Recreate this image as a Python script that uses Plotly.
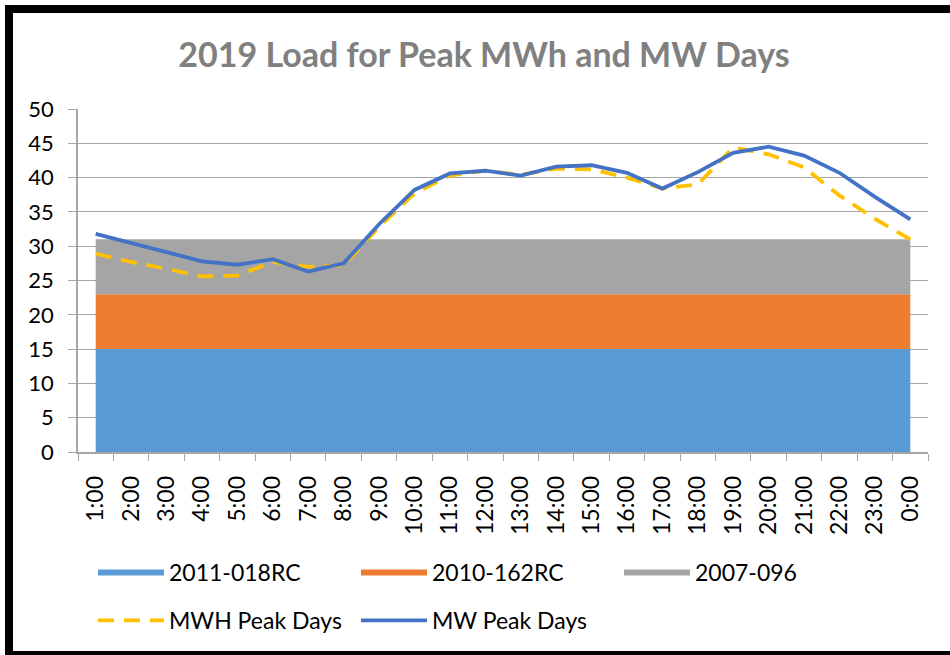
import plotly.graph_objects as go

hours = ["1:00", "2:00", "3:00", "4:00", "5:00", "6:00", "7:00", "8:00", "9:00", "10:00",
         "11:00", "12:00", "13:00", "14:00", "15:00", "16:00", "17:00", "18:00", "19:00",
         "20:00", "21:00", "22:00", "23:00", "0:00"]

res_2011_018RC = [15] * 24
res_2010_162RC = [8] * 24
res_2007_096 = [8] * 24

mwh_peak_days = [28.9, 27.7, 26.7, 25.6, 25.7, 27.7, 27.0, 27.2, 32.8, 37.7, 40.3, 41.0,
                 40.4, 41.3, 41.2, 40.0, 38.4, 39.0, 44.4, 43.4, 41.5, 37.4, 34.0, 31.0]
mw_peak_days = [31.8, 30.5, 29.1, 27.8, 27.3, 28.1, 26.3, 27.5, 33.2, 38.2, 40.6, 41.0,
                40.3, 41.6, 41.8, 40.7, 38.4, 40.8, 43.6, 44.5, 43.2, 40.7, 37.2, 33.9]

FONT = "Lato"
W, H = 950, 655
L, R, T, B = 78, 22, 109, 203
PW, PH = W - L - R, H - T - B


def px_x(x):
    return (x - L) / PW


def px_y(y):
    return (H - B - y) / PH


fig = go.Figure()

area_series = [("2011-018RC", res_2011_018RC, "#5B9BD5"),
               ("2010-162RC", res_2010_162RC, "#ED7D31"),
               ("2007-096", res_2007_096, "#A5A5A5")]
for name, vals, col in area_series:
    fig.add_trace(go.Scatter(x=hours, y=vals, name=name, stackgroup="one", mode="none",
                             fillcolor=col, legend="legend"))

fig.add_trace(go.Scatter(x=hours, y=mwh_peak_days, name="MWH Peak Days", mode="lines",
                         line=dict(color="#FFC000", width=3.8, dash="16px,10px"),
                         legend="legend2"))
fig.add_trace(go.Scatter(x=hours, y=mw_peak_days, name="MW Peak Days", mode="lines",
                         line=dict(color="#4472C4", width=3.8),
                         legend="legend2"))

legend_common = dict(orientation="h", xanchor="left", yanchor="top", traceorder="normal",
                     font=dict(family=FONT, size=23, color="#000000"),
                     entrywidth=182, entrywidthmode="pixels", itemwidth=66,
                     bgcolor="rgba(0,0,0,0)")

fig.update_layout(
    width=W, height=H,
    margin=dict(l=L, r=R, t=T, b=B),
    paper_bgcolor="white", plot_bgcolor="white",
    font=dict(family=FONT, size=22, color="#000000"),
    title=dict(text="<b>2019 Load for Peak MWh and MW Days</b>",
               font=dict(family=FONT, size=34, color="#808080"),
               x=(484 / W), xanchor="center", y=1 - 55 / H, yanchor="middle"),
    showlegend=True,
    legend=dict(x=px_x(93), y=px_y(551), **legend_common),
    legend2=dict(x=px_x(93), y=px_y(599), **legend_common),
    xaxis=dict(type="category", range=[-0.5, 23.5], tickangle=-90,
               showline=True, linecolor="#A6A6A6", linewidth=1.5,
               ticks="outside", tickson="boundaries", ticklen=7, tickcolor="#A6A6A6",
               ticklabelstandoff=13,
               tickfont=dict(family=FONT, size=23, color="#000000"),
               showgrid=False, zeroline=False),
    yaxis=dict(range=[0, 50], dtick=5, tick0=0,
               showline=True, linecolor="#A6A6A6", linewidth=1.5,
               ticks="outside", ticklen=8, tickcolor="#A6A6A6",
               ticklabelstandoff=10,
               showgrid=True, gridcolor="#A6A6A6", gridwidth=1.3,
               tickfont=dict(family=FONT, size=22, color="#000000"),
               zeroline=False),
    shapes=[dict(type="rect", xref="paper", yref="paper",
                 x0=px_x(9), x1=px_x(980), y0=px_y(9), y1=px_y(655),
                 line=dict(color="black", width=8), fillcolor="rgba(0,0,0,0)",
                 layer="above")],
)

fig.write_html("out.html", config={"displayModeBar": False},
               post_script="document.body.style.margin='0';document.body.style.overflow='hidden';")
